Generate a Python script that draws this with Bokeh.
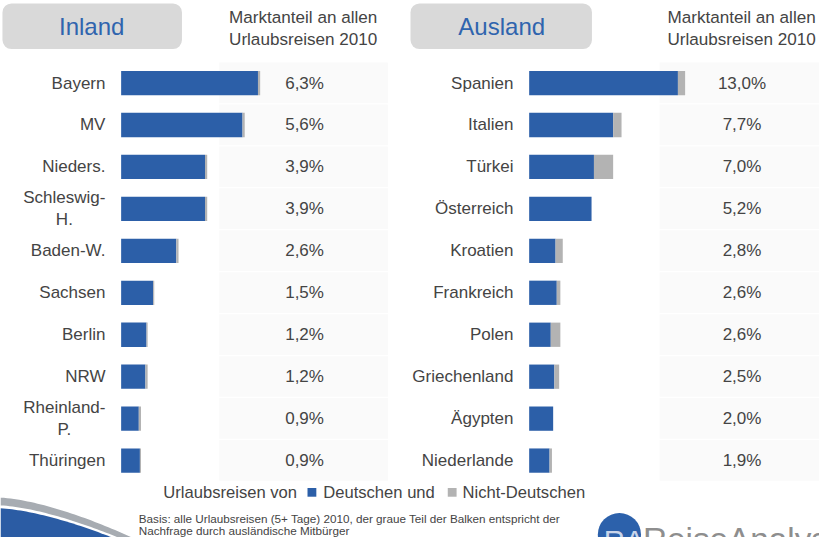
import numpy as np
from bokeh.plotting import figure
from bokeh.models import Range1d
from bokeh.core.properties import value
from bokeh.embed import file_html
from bokeh.resources import INLINE

# ---------------- data ----------------
inland_cats = ["Bayern", "MV", "Nieders.", "Schleswig-\nH.", "Baden-W.", "Sachsen",
               "Berlin", "NRW", "Rheinland-\nP.", "Thüringen"]
inland_total = [6.3, 5.6, 3.9, 3.9, 2.6, 1.5, 1.2, 1.2, 0.9, 0.9]
inland_de = [6.2, 5.5, 3.8, 3.8, 2.5, 1.45, 1.15, 1.1, 0.8, 0.85]

ausland_cats = ["Spanien", "Italien", "Türkei", "Österreich", "Kroatien", "Frankreich",
                "Polen", "Griechenland", "Ägypten", "Niederlande"]
ausland_total = [13.0, 7.7, 7.0, 5.2, 2.8, 2.6, 2.6, 2.5, 2.0, 1.9]
ausland_de = [12.4, 7.0, 5.4, 5.2, 2.2, 2.3, 1.8, 2.1, 2.0, 1.7]

header_left = "Inland"
header_right = "Ausland"
column_title = "Marktanteil an allen\nUrlaubsreisen 2010"
legend_parts = ["Urlaubsreisen von", "Deutschen und", "Nicht-Deutschen"]
basis_text = ["Basis: alle Urlaubsreisen (5+ Tage) 2010, der graue Teil der Balken entspricht der",
              "Nachfrage durch ausländische Mitbürger"]

# ---------------- styles ----------------
BLUE = "#2c5fa8"
GRAY = "#b3b3b3"
TXT = "#444444"
FONT = value("Liberation Sans")
W, H = 835, 553
S = 0.978  # font scale (figure is slightly smaller than reference)


def fs(px):
    return f"{px * S:.1f}px"


p = figure(width=819, height=537, output_backend="svg", toolbar_location=None,
           x_range=Range1d(0, W), y_range=Range1d(H, 0),
           min_border=0, outline_line_color=None)
p.axis.visible = False
p.grid.visible = False
p.background_fill_color = "white"
p.border_fill_color = "white"

row0, row_step = 85, 43.2
p.extra_y_ranges = {"rows": Range1d((H - row0) / row_step, -row0 / row_step)}
in_x0, in_scale = 123, 22.5
au_x0, au_scale = 539, 12.23
p.extra_x_ranges = {
    "inland": Range1d(-in_x0 / in_scale, (W - in_x0) / in_scale),
    "ausland": Range1d(-au_x0 / au_scale, (W - au_x0) / au_scale),
}

idx = list(range(len(inland_cats)))

# faint value-column bands
p.quad(left=223, right=395, top=[i - 0.49 for i in idx], bottom=[i + 0.48 for i in idx],
       y_range_name="rows", fill_color="#fafafa", line_color=None)
p.quad(left=672, right=W, top=[i - 0.49 for i in idx], bottom=[i + 0.48 for i in idx],
       y_range_name="rows", fill_color="#fafafa", line_color=None)

bh = 25 / row_step
# inland bars
p.hbar(y=idx, left=0, right=inland_de, height=bh, x_range_name="inland",
       y_range_name="rows", fill_color=BLUE, line_color=None)
p.hbar(y=idx, left=inland_de, right=inland_total, height=bh, x_range_name="inland",
       y_range_name="rows", fill_color=GRAY, line_color=None)
# ausland bars
p.hbar(y=idx, left=0, right=ausland_de, height=bh, x_range_name="ausland",
       y_range_name="rows", fill_color=BLUE, line_color=None)
p.hbar(y=idx, left=ausland_de, right=ausland_total, height=bh, x_range_name="ausland",
       y_range_name="rows", fill_color=GRAY, line_color=None)

# category labels
p.text(x=107, y=idx, text=inland_cats, y_range_name="rows", anchor="center_right",
       text_align="center", text_font=FONT, text_font_size=fs(17.4), text_color=TXT,
       text_line_height=1.15)
p.text(x=523, y=idx, text=ausland_cats, y_range_name="rows", anchor="center_right",
       text_align="center", text_font=FONT, text_font_size=fs(17.4), text_color=TXT,
       text_line_height=1.15)


def pct(v):
    return f"{v:.1f}".replace(".", ",") + "%"


p.text(x=310, y=idx, text=[pct(v) for v in inland_total], y_range_name="rows",
       text_align="center", text_baseline="middle", text_font=FONT,
       text_font_size=fs(17.4), text_color=TXT)
p.text(x=756, y=idx, text=[pct(v) for v in ausland_total], y_range_name="rows",
       text_align="center", text_baseline="middle", text_font=FONT,
       text_font_size=fs(17.4), text_color=TXT)

# header boxes
p.quad(left=[2, 418], right=[185, 603], top=[3, 3], bottom=[50, 50],
       fill_color="#d9d9d9", line_color=None, border_radius=9)
p.text(x=[93, 511], y=[27, 27], text=[header_left, header_right], text_align="center",
       text_baseline="middle", text_font=FONT, text_font_size=fs(24.5), text_color="#2f64ae")
p.text(x=[233, 680], y=[29, 29], text=[column_title, column_title], anchor="center_left",
       text_align="left", text_font=FONT, text_font_size=fs(17.5), text_color=TXT,
       text_line_height=1.15)

# legend
p.text(x=[166, 329, 471], y=[507] * 3, text=legend_parts, text_align="left",
       text_baseline="middle", text_font=FONT, text_font_size=fs(17), text_color=TXT)
p.quad(left=[313, 456], right=[322, 465], top=[502, 502], bottom=[511, 511],
       fill_color=[BLUE, GRAY], line_color=None)

# basis note
p.text(x=[141, 141], y=[533, 546], text=basis_text, text_align="left",
       text_baseline="middle", text_font=FONT, text_font_size=fs(12), text_color=TXT)

# decorative swoosh bottom-left
t = np.linspace(0, 1, 40)
gx_top = 134 * t
gy_top = 512 + 41 * t ** 1.5
gx_bot = 120 * t[::-1]
gy_bot = 520 + 33 * t[::-1] ** 1.5
p.patch(np.concatenate([gx_top, gx_bot]), np.concatenate([gy_top, gy_bot]),
        fill_color="#a7acb2", line_color=None)
bx = 114 * t
by = 523 + 30 * t ** 1.5
p.patch(np.concatenate([bx, [114, 0]]), np.concatenate([by, [560, 560]]),
        fill_color="#2b5ca4", line_color=None)

# logo
p.circle(x=[631], y=[550], radius=22, fill_color="#2c61ab", line_color=None)
p.text(x=[615], y=[556], text=["RA"], text_align="left", text_baseline="alphabetic",
       text_font=FONT, text_font_size=fs(30), text_color="#c9d5ea")
p.text(x=[655], y=[555], text=["ReiseAnalyse"], text_align="left",
       text_baseline="alphabetic", text_font=FONT, text_font_size=fs(34),
       text_color="#8e8e8e")

open("out.html", "w").write(file_html(p, INLINE))
